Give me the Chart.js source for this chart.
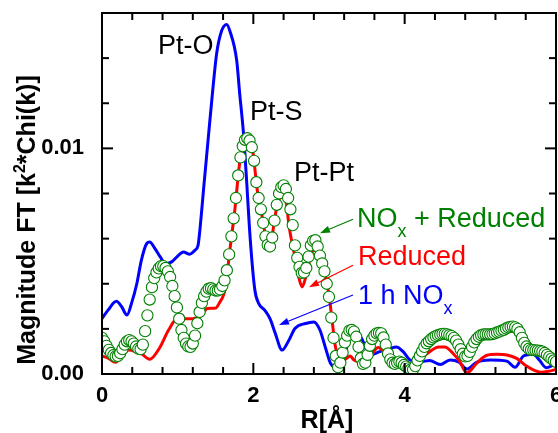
<!DOCTYPE html>
<html><head><meta charset="utf-8">
<script src="https://cdn.jsdelivr.net/npm/chart.js@4/dist/chart.umd.min.js"></script>
<style>html,body{margin:0;padding:0;background:#fff;}#c{display:block;}</style>
</head><body>
<canvas id="c" width="558" height="433"></canvas>
<script>
// ---- data (values in units of 1e-3) ----
const UNIT = 1e-3;
const GREEN_STEP = 0.03; // R grid of the "NOx + Reduced" markers, 0 .. 6.00
const greenV = [
 1.60,1.45,1.25,1.07,0.93,0.83,0.78,0.80,0.92,1.10,
 1.30,1.45,1.50,1.45,1.35,1.22,1.12,1.10,1.30,1.90,
 2.60,3.30,3.85,4.25,4.50,4.68,4.78,4.78,4.70,4.55,
 4.30,3.90,3.45,2.95,2.45,1.95,1.60,1.35,1.22,1.20,
 1.35,1.70,2.25,2.75,3.15,3.45,3.65,3.78,3.80,3.75,
 3.70,3.70,3.75,3.90,4.15,4.60,5.30,6.10,6.90,7.80,
 8.80,9.60,10.10,10.38,10.45,10.35,10.05,9.45,8.50,7.80,
 7.30,6.70,6.10,5.72,5.65,6.05,6.80,7.50,8.00,8.28,
 8.36,8.20,7.80,7.30,6.60,5.70,5.15,4.75,4.48,4.50,
 4.70,5.20,5.70,5.90,5.93,5.65,5.25,4.90,4.55,4.00,
 3.42,2.50,1.60,0.80,0.30,0.50,0.95,1.40,1.70,1.92,
 1.95,1.88,1.65,1.20,0.70,0.45,0.50,0.85,1.25,1.55,
 1.70,1.80,1.82,1.80,1.62,1.30,0.91,0.65,0.50,0.45,
 0.50,0.55,0.50,0.40,0.33,0.25,0.20,0.20,0.35,0.60,
 0.80,1.00,1.20,1.36,1.45,1.55,1.62,1.68,1.72,1.75,
 1.78,1.78,1.76,1.72,1.68,1.60,1.48,1.30,1.10,0.90,
 0.78,0.80,0.98,1.20,1.40,1.55,1.65,1.72,1.75,1.76,
 1.76,1.76,1.77,1.80,1.84,1.88,1.92,1.96,2.02,2.06,
 2.09,2.10,2.07,2.00,1.85,1.60,1.38,1.22,1.12,1.07,
 1.06,1.05,1.04,1.02,0.99,0.93,0.85,0.76,0.68,0.60,
 0.54
];
const redR = [0.00,0.08,0.18,0.26,0.35,0.45,0.52,0.63,0.76,0.88,1.01,1.10,1.20,1.32,1.39,1.50,1.56,1.60,1.63,1.66,1.69,1.72,1.75,1.78,1.81,1.84,1.87,1.92,1.96,1.99,2.02,2.05,2.08,2.11,2.14,2.17,2.21,2.24,2.27,2.31,2.35,2.40,2.44,2.47,2.55,2.60,2.645,2.70,2.75,2.80,2.85,2.90,2.95,3.00,3.04,3.08,3.12,3.16,3.23,3.28,3.33,3.41,3.54,3.65,3.76,3.89,4.00,4.07,4.20,4.33,4.45,4.53,4.64,4.73,4.82,4.95,5.08,5.22,5.35,5.48,5.61,5.72,5.80,5.90,6.00];
const redV = [0.80,0.70,0.52,0.77,1.06,0.99,0.90,0.65,1.15,1.95,2.50,2.45,2.45,2.61,2.90,2.92,3.20,3.45,3.80,4.60,5.50,6.30,7.10,8.10,9.10,9.80,10.20,10.45,10.30,9.95,9.10,8.20,7.65,7.10,6.50,6.00,5.65,5.90,6.60,7.40,7.80,7.90,7.50,6.60,5.19,4.30,3.86,4.40,5.10,5.50,5.40,5.00,4.40,3.50,2.40,1.30,0.75,0.60,0.69,0.80,0.62,0.54,0.77,1.18,0.84,0.47,0.18,0.22,0.62,0.99,1.20,1.20,0.91,0.55,0.05,0.47,0.82,0.87,0.84,0.69,0.35,0.15,0.08,0.12,0.20];
const blueR = [0.00,0.08,0.19,0.26,0.33,0.39,0.46,0.52,0.59,0.63,0.70,0.77,0.84,0.92,0.99,1.075,1.16,1.23,1.27,1.30,1.34,1.40,1.45,1.515,1.58,1.648,1.69,1.78,1.82,1.87,1.905,1.96,2.02,2.07,2.15,2.22,2.29,2.38,2.47,2.55,2.69,2.80,2.88,2.95,3.02,3.08,3.15,3.22,3.31,3.43,3.54,3.67,3.81,3.89,3.98,4.07,4.20,4.33,4.47,4.60,4.72,4.82,4.95,5.13,5.35,5.46,5.57,5.70,5.78,5.87,5.96,6.00];
const blueV = [2.46,2.83,3.22,2.98,2.61,3.13,4.00,5.04,5.78,5.85,5.56,5.19,4.88,4.97,5.19,5.41,5.31,5.49,5.71,6.60,8.10,10.30,12.10,14.20,15.20,15.49,15.20,13.90,12.42,10.66,8.90,5.93,3.72,3.13,2.83,2.45,1.80,1.06,1.50,2.02,2.24,2.31,1.95,1.20,0.47,0.28,0.25,1.00,2.05,1.58,0.84,0.99,1.14,1.20,0.99,0.62,0.54,0.60,0.42,0.62,0.52,0.22,0.52,0.62,0.57,0.30,0.80,0.88,0.62,0.28,0.38,0.42];

const xLabelTicks = [0, 2, 4, 6];
const yLabelTicks = [0.00, 0.01];
const xMinorStep = 0.4, yMinorStep = 0.002;

// annotations: [text, R, value(1e-3)]
const peakLabels = [["Pt-O",0.74,14.2],["Pt-S",1.956,11.24],["Pt-Pt",2.537,8.54]];
const seriesLabels = [
  {main:"NO", sub:"x", rest:" + Reduced", color:"#008000", R:3.37, v:6.5, from:[3.317,6.86], to:[2.881,6.24]},
  {main:"Reduced", sub:"", rest:"", color:"#ff0000", R:3.383, v:4.82, from:[3.317,4.82], to:[2.736,3.85]},
  {main:"1 h NO", sub:"x", rest:"", color:"#0000ff", R:3.383, v:3.10, from:[3.317,3.50], to:[2.339,2.17]}
];

const FF = '"Liberation Sans", Arial, Helvetica, sans-serif';
const near = (a,b)=>Math.abs(a-b)<1e-9;

const decor = {
  id:'decor',
  afterDraw(chart){
    const {ctx, chartArea:a, scales:{x,y}} = chart;
    const line=(x1,y1,x2,y2)=>{ctx.beginPath();ctx.moveTo(x1,y1);ctx.lineTo(x2,y2);ctx.stroke();};
    ctx.save();
    ctx.strokeStyle='#000'; ctx.lineWidth=2; ctx.lineCap='butt';
    ctx.strokeRect(a.left,a.top,a.right-a.left,a.bottom-a.top);
    x.ticks.forEach(t=>{
      const p=x.getPixelForValue(t.value); const L=t.label?11:7;
      line(p,a.bottom,p,a.bottom-L); line(p,a.top,p,a.top+L);
    });
    y.ticks.forEach(t=>{
      const p=y.getPixelForValue(t.value); const L=t.label?11:7;
      line(a.left,p,a.left+L,p); line(a.right,p,a.right-L,p);
    });
    // axis titles
    ctx.fillStyle='#000'; ctx.textBaseline='alphabetic'; ctx.textAlign='left';
    ctx.font='bold 25px '+FF;
    const xt='R[Å]'; const xw=ctx.measureText(xt).width;
    ctx.fillText(xt,(a.left+a.right)/2-xw/2-2,428);
    const p1='Magnitude FT [k', p2='2', p3='*Chi(k)]';
    ctx.font='bold 25px '+FF; const w1=ctx.measureText(p1).width, w3=ctx.measureText(p3).width;
    ctx.font='bold 16px '+FF; const w2=ctx.measureText(p2).width;
    const tot=w1+w2+w3;
    ctx.save(); ctx.translate(35,220); ctx.rotate(-Math.PI/2);
    let sx=-tot/2;
    ctx.font='bold 25px '+FF; ctx.fillText(p1,sx,0); sx+=w1;
    ctx.font='bold 16px '+FF; ctx.fillText(p2,sx,-10); sx+=w2;
    ctx.font='bold 25px '+FF; ctx.fillText(p3,sx,0);
    ctx.restore();
    // peak labels
    ctx.font='27px '+FF; ctx.fillStyle='#000';
    peakLabels.forEach(([t,R,v])=>ctx.fillText(t,x.getPixelForValue(R),y.getPixelForValue(v*UNIT)));
    // series labels and arrows
    seriesLabels.forEach(s=>{
      ctx.fillStyle=s.color; ctx.strokeStyle=s.color;
      let px=x.getPixelForValue(s.R), py=y.getPixelForValue(s.v*UNIT);
      ctx.font='27px '+FF; ctx.fillText(s.main,px,py); px+=ctx.measureText(s.main).width;
      if(s.sub){ctx.font='18px '+FF; ctx.fillText(s.sub,px,py+10); px+=ctx.measureText(s.sub).width;}
      if(s.rest){ctx.font='27px '+FF; ctx.fillText(s.rest,px,py);}
      const x1=x.getPixelForValue(s.from[0]), y1=y.getPixelForValue(s.from[1]*UNIT);
      const x2=x.getPixelForValue(s.to[0]), y2=y.getPixelForValue(s.to[1]*UNIT);
      const ang=Math.atan2(y2-y1,x2-x1), HL=10, HW=3.5;
      const bx=x2-HL*Math.cos(ang), by=y2-HL*Math.sin(ang);
      ctx.lineWidth=1.2; line(x1,y1,bx,by);
      ctx.beginPath(); ctx.moveTo(x2,y2);
      ctx.lineTo(bx+HW*Math.sin(ang),by-HW*Math.cos(ang));
      ctx.lineTo(bx-HW*Math.sin(ang),by+HW*Math.cos(ang));
      ctx.closePath(); ctx.fill();
    });
    ctx.restore();
  }
};

const greenData = greenV.map((v,i)=>({x:+(i*GREEN_STEP).toFixed(2), y:v*UNIT}));
const redData = redR.map((r,i)=>({x:r, y:redV[i]*UNIT}));
const blueData = blueR.map((r,i)=>({x:r, y:blueV[i]*UNIT}));

new Chart(document.getElementById('c'),{
  type:'scatter',
  data:{datasets:[
    {label:'NOx + Reduced', data:greenData, showLine:false, pointRadius:5.6, pointBorderWidth:1.1,
     pointBorderColor:'#008000', pointBackgroundColor:'#ffffff', order:0, clip:0},
    {label:'Reduced', data:redData, showLine:true, borderColor:'#ff0000', borderWidth:3, pointRadius:0,
     cubicInterpolationMode:'monotone', order:1, clip:0},
    {label:'1 h NOx', data:blueData, showLine:true, borderColor:'#0000ff', borderWidth:3, pointRadius:0,
     cubicInterpolationMode:'monotone', order:2, clip:0}
  ]},
  options:{
    responsive:false, animation:false, devicePixelRatio:1,
    layout:{autoPadding:false, padding:{top:13,right:2,left:0,bottom:0}},
    plugins:{legend:{display:false}, tooltip:{enabled:false}},
    events:[],
    scales:{
      x:{type:'linear', min:0, max:6,
         grid:{display:false}, border:{display:false},
         ticks:{stepSize:xMinorStep, autoSkip:false, maxRotation:0, color:'#000', padding:1,
                font:{family:FF, size:22, weight:'bold'},
                callback:v=>xLabelTicks.some(t=>near(t,v))?String(Math.round(v)):''},
         afterFit(s){s.height=59; s.paddingLeft=0; s.paddingRight=0;}},
      y:{type:'linear', min:0, max:0.016,
         grid:{display:false}, border:{display:false},
         ticks:{stepSize:yMinorStep, autoSkip:false, color:'#000', padding:10,
                font:{family:FF, size:22, weight:'bold'},
                callback:v=>yLabelTicks.some(t=>near(t,v))?v.toFixed(2):''},
         afterFit(s){s.width=102; s.paddingTop=0; s.paddingBottom=0;}}
    }
  },
  plugins:[decor]
});
</script>
</body></html>
